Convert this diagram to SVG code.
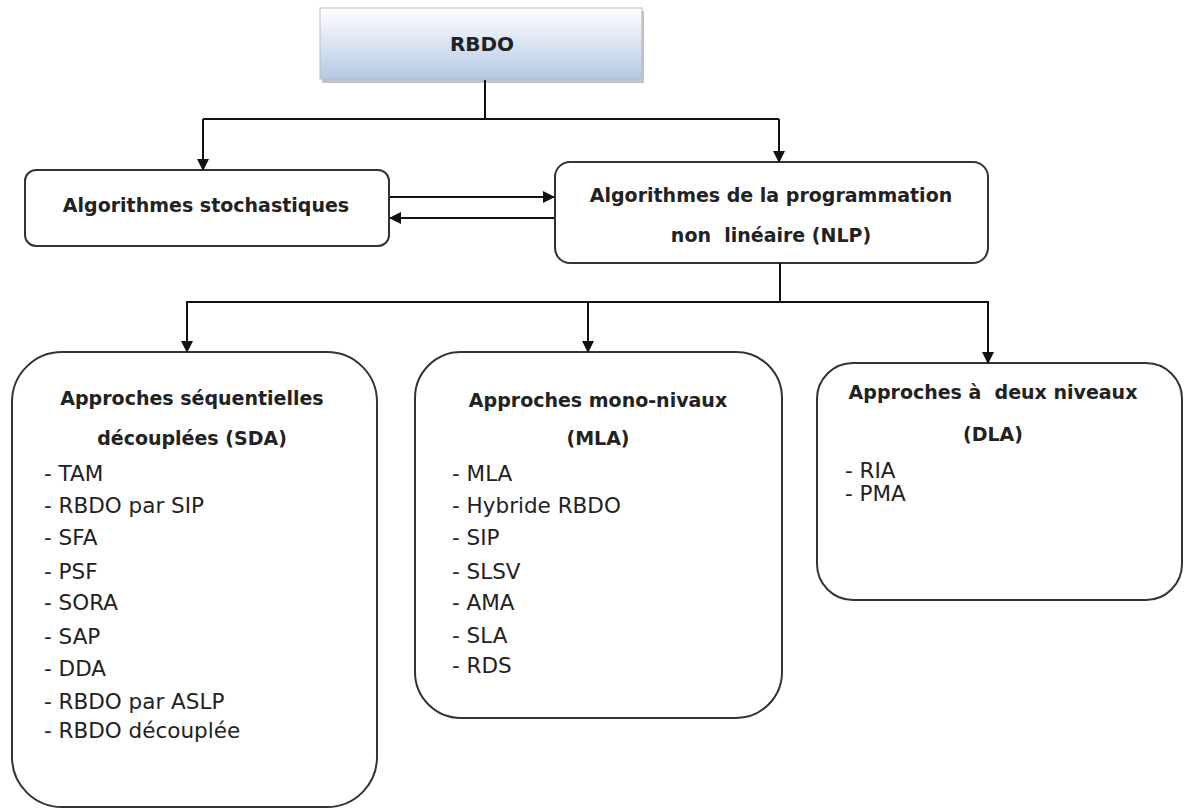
<svg xmlns="http://www.w3.org/2000/svg" width="1184" height="809" viewBox="0 0 1184 809">
<defs>
<linearGradient id="g" x1="0" y1="0" x2="0" y2="1">
<stop offset="0" stop-color="#ffffff"/>
<stop offset="1" stop-color="#b3c9e6"/>
</linearGradient>
<marker id="ah" markerWidth="12" markerHeight="12" refX="11" refY="6" orient="auto" markerUnits="userSpaceOnUse">
<path d="M0,0 L12,6 L0,12 Z" fill="#111"/>
</marker>
</defs>
<style>
.box{fill:#fff;stroke:#333;stroke-width:2}
.t{font-family:"DejaVu Sans",sans-serif;font-weight:bold;font-size:19px;fill:#222;text-anchor:middle;white-space:pre}
.i{font-family:"DejaVu Sans",sans-serif;font-size:21.5px;fill:#222;white-space:pre}
.c{fill:none;stroke:#111;stroke-width:2}
</style>
<rect width="1184" height="809" fill="#fff"/>
<g id="rbdo">
<rect x="322" y="11" width="322" height="72" fill="#888" opacity="0.5"/>
<rect x="320" y="8" width="322" height="71" fill="url(#g)" stroke="#bbb" stroke-width="1"/>
<text class="t" x="482" y="51" style="font-size:20px">RBDO</text>
</g>
<g id="stochastiques">
<rect class="box" x="25" y="170" width="364" height="76" rx="11"/>
<text class="t" x="206" y="212">Algorithmes stochastiques</text>
</g>
<g id="nlp">
<rect class="box" x="555" y="162" width="433" height="101" rx="15"/>
<text class="t" x="771" y="202">Algorithmes de la programmation</text>
<text class="t" x="771" y="242" xml:space="preserve">non  linéaire (NLP)</text>
</g>
<g id="sda">
<rect class="box" x="12" y="352" width="365" height="455" rx="50"/>
<text class="t" x="192" y="405">Approches séquentielles</text>
<text class="t" x="192" y="445">découplées (SDA)</text>
<text class="i" x="44" y="481">- TAM</text>
<text class="i" x="44" y="513">- RBDO par SIP</text>
<text class="i" x="44" y="545">- SFA</text>
<text class="i" x="44" y="579">- PSF</text>
<text class="i" x="44" y="610">- SORA</text>
<text class="i" x="44" y="644">- SAP</text>
<text class="i" x="44" y="676">- DDA</text>
<text class="i" x="44" y="709">- RBDO par ASLP</text>
<text class="i" x="44" y="738">- RBDO découplée</text>
</g>
<g id="mla">
<rect class="box" x="415" y="352" width="367" height="366" rx="46"/>
<text class="t" x="598" y="407">Approches mono-nivaux</text>
<text class="t" x="598" y="445">(MLA)</text>
<text class="i" x="452" y="481">- MLA</text>
<text class="i" x="452" y="513">- Hybride RBDO</text>
<text class="i" x="452" y="545">- SIP</text>
<text class="i" x="452" y="579">- SLSV</text>
<text class="i" x="452" y="610">- AMA</text>
<text class="i" x="452" y="643">- SLA</text>
<text class="i" x="452" y="673">- RDS</text>
</g>
<g id="dla">
<rect class="box" x="817" y="363" width="365" height="237" rx="36"/>
<text class="t" x="993" y="399" xml:space="preserve">Approches à  deux niveaux</text>
<text class="t" x="993" y="441">(DLA)</text>
<text class="i" x="845" y="478">- RIA</text>
<text class="i" x="845" y="501">- PMA</text>
</g>
<g id="connectors">
<path class="c" d="M485,80 V119"/>
<path class="c" d="M203,119 H779"/>
<path class="c" d="M203,119 V170" marker-end="url(#ah)"/>
<path class="c" d="M779,119 V162" marker-end="url(#ah)"/>
<path class="c" d="M390,197 H554" marker-end="url(#ah)"/>
<path class="c" d="M554,218 H390" marker-end="url(#ah)"/>
<path class="c" d="M780,263 V302"/>
<path class="c" d="M186,302 H989"/>
<path class="c" d="M187,302 V352" marker-end="url(#ah)"/>
<path class="c" d="M588,302 V352" marker-end="url(#ah)"/>
<path class="c" d="M988,302 V363" marker-end="url(#ah)"/>
</g>
</svg>
